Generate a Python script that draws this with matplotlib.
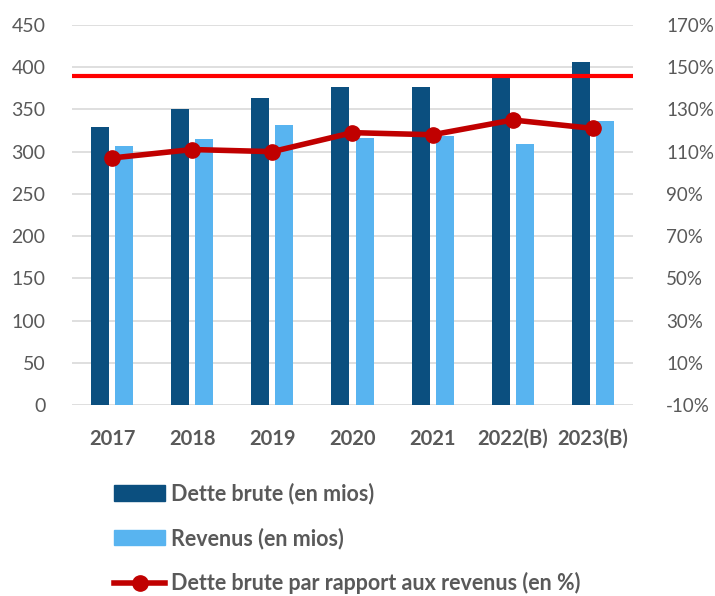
import numpy as np
import matplotlib.pyplot as plt
from matplotlib.lines import Line2D
from matplotlib.patches import Patch

# ── Data ──────────────────────────────────────────────────────────────────────
years    = ['2017', '2018', '2019', '2020', '2021', '2022(B)', '2023(B)']
dette    = [329, 350, 364, 377, 376, 387, 406]    # en mios
revenus  = [307, 315, 331, 316, 318, 309, 336]    # en mios
ratio    = [107, 111, 110, 119, 118, 125, 121]    # en %
seuil    = 146                                    # ligne rouge (en %)

left_ticks  = list(range(0, 451, 50))
right_ticks = list(range(-10, 171, 20))

# ── Style ─────────────────────────────────────────────────────────────────────
c_dark  = '#0B4F7F'
c_light = '#58B4F0'
c_line  = '#C00000'
c_seuil = '#FF0000'
c_text  = '#595959'
c_grid  = '#D9D9D9'
plt.rcParams['font.family'] = ['Lato', 'DejaVu Sans']

fig = plt.figure(figsize=(7.15, 5.96), dpi=100)
ax  = fig.add_axes([0.1007, 0.3205, 0.7846, 0.6376])
ax2 = ax.twinx()

x = np.arange(len(years))
w = 0.225
ax.bar(x - 0.15, dette,   w, color=c_dark,  zorder=2)
ax.bar(x + 0.15, revenus, w, color=c_light, zorder=2)

ax.set_ylim(0, 450)
ax.set_xlim(-0.5, len(years) - 0.5)
ax.set_yticks(left_ticks)
ax.yaxis.grid(True, color=c_grid, linewidth=1.2, zorder=0)
ax.set_axisbelow(True)
ax.set_xticks(x)
ax.set_xticklabels(years, fontsize=14.5, fontweight='bold', color=c_text)
ax.tick_params(axis='y', labelsize=14, labelcolor=c_text, length=0, pad=19)
ax.tick_params(axis='x', length=0, pad=17)
for s in ax.spines.values():
    s.set_visible(False)

ax2.plot(x, ratio, color=c_line, linewidth=4, marker='o', markersize=11, zorder=3)
ax2.axhline(seuil, color=c_seuil, linewidth=3, zorder=3)
ax2.set_ylim(-10, 170)
ax2.set_yticks(right_ticks)
ax2.set_yticklabels([f'{t}%' for t in right_ticks])
ax2.tick_params(axis='y', labelsize=13.5, labelcolor=c_text, length=0, pad=24)
for s in ax2.spines.values():
    s.set_visible(False)

handles = [
    Patch(color=c_dark),
    Patch(color=c_light),
    Line2D([], [], color=c_line, linewidth=4, marker='o', markersize=11),
]
labels = ['Dette brute (en mios)', 'Revenus (en mios)',
          'Dette brute par rapport aux revenus (en %)']
leg = fig.legend(handles, labels, loc='upper left', bbox_to_anchor=(0.147, 0.205),
                 frameon=False, handlelength=2.4, handleheight=0.75,
                 labelspacing=1.08, handletextpad=0.25, borderaxespad=0,
                 prop={'size': 15.5, 'weight': 'bold'})
for t in leg.get_texts():
    t.set_color(c_text)

fig.savefig('out.png', dpi=100)
